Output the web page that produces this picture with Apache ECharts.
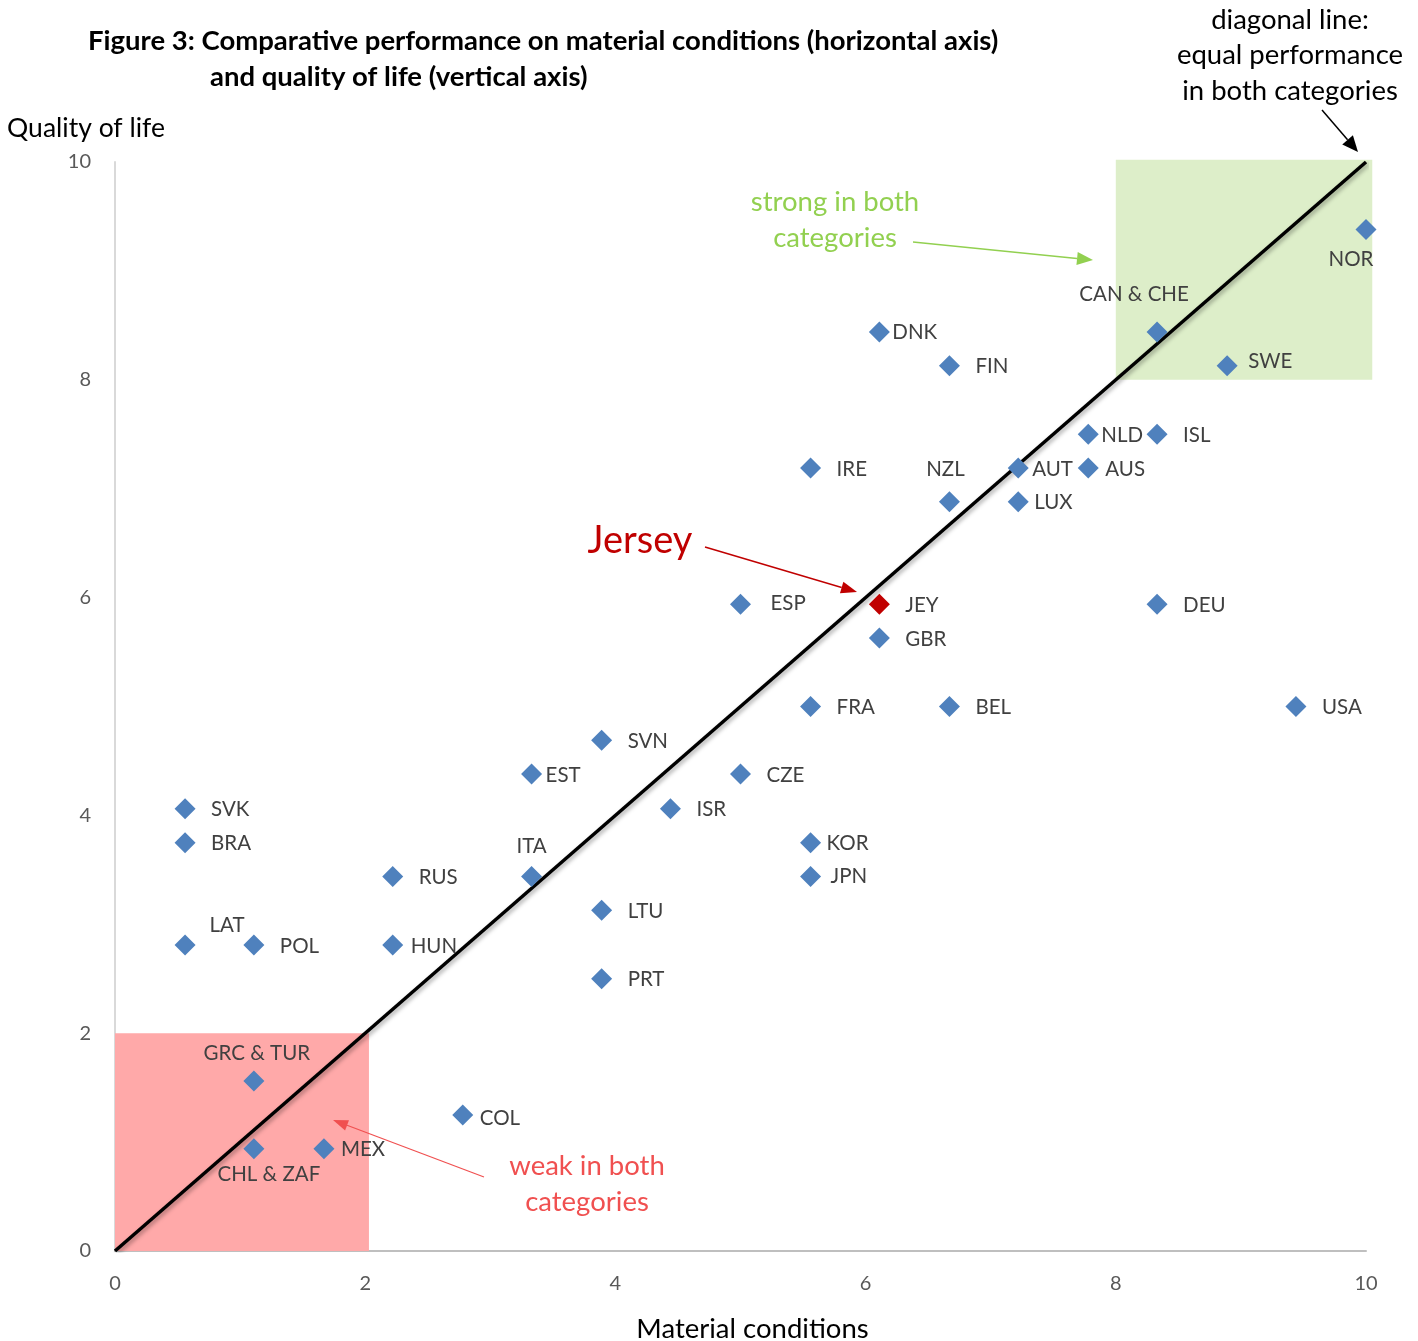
<!DOCTYPE html>
<html>
<head>
<meta charset="utf-8">
<script src="https://cdn.jsdelivr.net/npm/echarts@6/dist/echarts.min.js"></script>
<style>
  html, body { margin: 0; padding: 0; background: #ffffff; }
  #chart { width: 1418px; height: 1341px; }
</style>
</head>
<body>
<div id="chart"></div>
<script>
// Country codes and their scores (0–10) on the two dimensions
const countries = ['NOR', 'CAN & CHE', 'SWE', 'DNK', 'FIN', 'NLD', 'ISL', 'IRE', 'AUT', 'AUS',
  'NZL', 'LUX', 'ESP', 'JEY', 'DEU', 'GBR', 'FRA', 'BEL', 'USA', 'SVN',
  'EST', 'CZE', 'ISR', 'SVK', 'BRA', 'KOR', 'RUS', 'ITA', 'JPN', 'LTU',
  'LAT', 'POL', 'HUN', 'PRT', 'GRC & TUR', 'COL', 'CHL & ZAF', 'MEX'];
const material = [10.00, 8.33, 8.89, 6.11, 6.67, 7.78, 8.33, 5.56, 7.22, 7.78,
  6.67, 7.22, 5.00, 6.11, 8.33, 6.11, 5.56, 6.67, 9.44, 3.89,
  3.33, 5.00, 4.44, 0.56, 0.56, 5.56, 2.22, 3.33, 5.56, 3.89,
  0.56, 1.11, 2.22, 3.89, 1.11, 2.78, 1.11, 1.67];
const quality = [9.38, 8.44, 8.13, 8.44, 8.13, 7.50, 7.50, 7.19, 7.19, 7.19,
  6.88, 6.88, 5.94, 5.94, 5.94, 5.63, 5.00, 5.00, 5.00, 4.69,
  4.38, 4.38, 4.06, 4.06, 3.75, 3.75, 3.44, 3.44, 3.44, 3.13,
  2.81, 2.81, 2.81, 2.50, 1.56, 1.25, 0.94, 0.94];
const highlighted = 'JEY';

// Equal-performance diagonal and the two highlighted zones [x0, y0, x1, y1]
const diagonal = [[0, 0], [10, 10]];
const zoneNames = ['strong', 'weak'];
const zoneBounds = [[8, 8, 10.05, 10.02], [0, 0, 2.03, 2]];

const FONT = 'Lato, "Open Sans", sans-serif';
const BLUE = '#4f81bd';
const DARKRED = '#c00000';
const zoneColors = { strong: '#ddeec9', weak: '#ffa9a9' };

// Label placement for each point: offset of label from the marker centre
const labelPlacement = {
  'NLD': [13, 1, 'left'], 'AUT': [14, 1, 'left'], 'AUS': [17, 1, 'left'], 'LUX': [16, 1, 'left'],
  'HUN': [18, 1, 'left'], 'EST': [14, 1, 'left'], 'MEX': [17, 1, 'left'], 'COL': [17, 4, 'left'],
  'KOR': [16, 1, 'left'], 'JPN': [20, 0, 'left'], 'DNK': [13, 1, 'left'], 'ESP': [30, -1, 'left'],
  'SWE': [21, -4, 'left'],
  'NOR': [-15, 30, 'center'], 'CAN & CHE': [-23, -37, 'center'], 'NZL': [-4, -32, 'center'],
  'LAT': [42, -20, 'center'], 'ITA': [0, -30, 'center'], 'GRC & TUR': [3, -28, 'center'],
  'CHL & ZAF': [15, 26, 'center']
};

const points = countries.map((name, i) => {
  const p = labelPlacement[name] || [26, 1, 'left'];
  return {
    name: name,
    value: [material[i], quality[i]],
    itemStyle: { color: name === highlighted ? DARKRED : BLUE, opacity: 1 },
    label: { offset: [p[0], p[1]], align: p[2] }
  };
});

const zones = zoneNames.map((name, i) => ({ name: name, value: zoneBounds[i] }));

// Arrow helper for the annotation callouts
function arrow(x1, y1, x2, y2, color, width, headLen, headW) {
  const ang = Math.atan2(y2 - y1, x2 - x1);
  const bx = x2 - headLen * Math.cos(ang), by = y2 - headLen * Math.sin(ang);
  const nx = -Math.sin(ang) * headW / 2, ny = Math.cos(ang) * headW / 2;
  return [
    { type: 'line', shape: { x1: x1, y1: y1, x2: bx, y2: by }, style: { stroke: color, lineWidth: width }, z: 100 },
    { type: 'polygon', shape: { points: [[x2, y2], [bx + nx, by + ny], [bx - nx, by - ny]] }, style: { fill: color }, z: 100 }
  ];
}

function text(x, y, str, opts) {
  return {
    type: 'text', x: x, y: y, z: 100,
    style: Object.assign({
      text: str, font: '27.5px ' + FONT, fill: '#000', align: 'center', verticalAlign: 'middle'
    }, opts || {})
  };
}

const chart = echarts.init(document.getElementById('chart'));

const option = {
  backgroundColor: '#ffffff',
  animation: false,
  textStyle: { fontFamily: FONT },
  grid: { left: 115, right: 52, top: 162, bottom: 90, containLabel: false, outerBoundsMode: 'none' },
  xAxis: {
    type: 'value', min: 0, max: 10, interval: 2,
    name: 'Material conditions', nameLocation: 'middle', nameGap: 64,
    nameTextStyle: { fontSize: 27.5, color: '#000', fontFamily: FONT, padding: [0, 0, 0, 24] },
    axisLine: { show: true, lineStyle: { color: '#bfbfbf', width: 2 } },
    axisTick: { show: false },
    splitLine: { show: false },
    axisLabel: { fontSize: 20, color: '#595959', margin: 23, fontFamily: FONT }
  },
  yAxis: {
    type: 'value', min: 0, max: 10, interval: 2,
    name: 'Quality of life', nameLocation: 'end', nameGap: 20,
    nameTextStyle: { fontSize: 26.5, color: '#000', fontFamily: FONT, align: 'center', padding: [0, 58, 0, 0] },
    axisLine: { show: true, lineStyle: { color: '#d9d9d9', width: 2 } },
    axisTick: { show: false },
    splitLine: { show: false },
    axisLabel: { fontSize: 20, color: '#595959', margin: 24, fontFamily: FONT }
  },
  series: [
    {
      name: 'zones', type: 'custom', silent: true, clip: false, z: 1,
      data: zones,
      renderItem: function (params, api) {
        const p0 = api.coord([api.value(0), api.value(1)]);
        const p1 = api.coord([api.value(2), api.value(3)]);
        return {
          type: 'rect',
          shape: { x: p0[0], y: p1[1], width: p1[0] - p0[0], height: p0[1] - p1[1] },
          style: { fill: zoneColors[zoneNames[params.dataIndex]] }
        };
      }
    },
    {
      name: 'Equal performance', type: 'line', data: diagonal, symbol: 'none', silent: true,
      lineStyle: { color: '#000', width: 3.5, shadowColor: 'rgba(0,0,0,0.35)', shadowBlur: 4, shadowOffsetX: 2, shadowOffsetY: 2 },
      z: 3
    },
    {
      name: 'Countries', type: 'scatter', symbol: 'diamond', symbolSize: 21,
      data: points,
      itemStyle: { opacity: 1 },
      label: {
        show: true, position: 'inside', formatter: '{b}',
        fontSize: 20.5, color: '#404040', fontFamily: FONT, verticalAlign: 'middle'
      },
      z: 5
    }
  ],
  graphic: [
    text(88, 41, 'Figure 3: Comparative performance on material conditions (horizontal axis)', { font: 'bold 27.5px ' + FONT, align: 'left' }),
    text(210, 77, 'and quality of life (vertical axis)', { font: 'bold 27.5px ' + FONT, align: 'left' }),
    text(1290, 20, 'diagonal line:'),
    text(1290, 55, 'equal performance'),
    text(1290, 91, 'in both categories'),
    text(835, 202, 'strong in both', { fill: '#92d050' }),
    text(835, 238, 'categories', { fill: '#92d050' }),
    text(587, 1166, 'weak in both', { fill: '#f05050' }),
    text(587, 1202, 'categories', { fill: '#f05050' }),
    text(640, 541, 'Jersey', { fill: DARKRED, font: '38px ' + FONT })
  ]
    .concat(arrow(1322, 110, 1358, 152, '#000', 1.5, 16, 14))
    .concat(arrow(913, 242, 1093, 260, '#92d050', 1.5, 16, 13))
    .concat(arrow(705, 547, 857, 592, DARKRED, 1.5, 16, 12))
    .concat(arrow(484, 1177, 333, 1120, '#f05050', 1.2, 15, 11))
};

chart.setOption(option);
</script>
</body>
</html>
